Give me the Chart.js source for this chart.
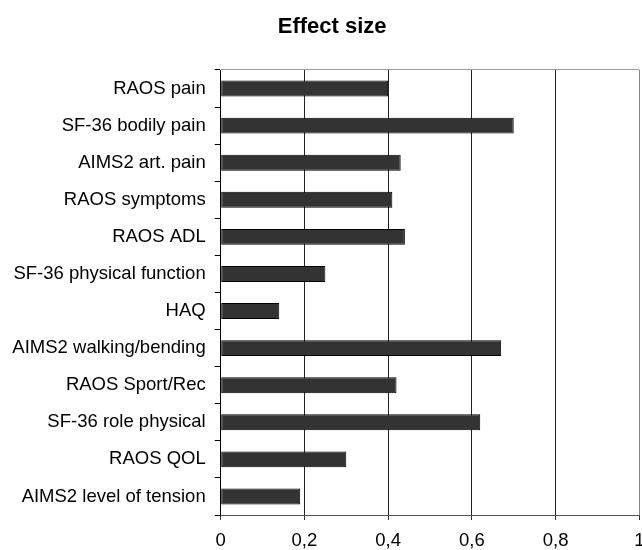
<!DOCTYPE html>
<html>
<head>
<meta charset="utf-8">
<script src="https://cdn.jsdelivr.net/npm/chart.js@4/dist/chart.umd.min.js"></script>
<style>
  html, body { margin: 0; padding: 0; background: #fff; }
  #wrap { width: 642px; height: 550px; }
</style>
</head>
<body>
<div id="wrap"><canvas id="c" width="642" height="550"></canvas></div>
<script>
const categories = [
  'RAOS pain', 'SF-36 bodily pain', 'AIMS2 art. pain', 'RAOS symptoms',
  'RAOS ADL', 'SF-36 physical function', 'HAQ', 'AIMS2 walking/bending',
  'RAOS Sport/Rec', 'SF-36 role physical', 'RAOS QOL', 'AIMS2 level of tension'
];
const effectSize = [0.40, 0.70, 0.43, 0.41, 0.44, 0.25, 0.14, 0.67, 0.42, 0.62, 0.30, 0.19];
const xTickLabels = ['0', '0,2', '0,4', '0,6', '0,8', '1'];
const chartTitle = 'Effect size';

const FONT = "'Liberation Sans', Arial, Helvetica, sans-serif";

// shift the title box so it is centred like the original (which ignores the widest label)
const titleShift = {
  id: 'titleShift',
  afterLayout(chart) {
    const t = chart.titleBlock;
    if (t) { t.left += 15; }
  }
};

new Chart(document.getElementById('c'), {
  type: 'bar',
  data: {
    labels: categories,
    datasets: [{
      data: effectSize,
      backgroundColor: '#333333',
      borderColor: '#000000',
      borderWidth: 1,
      borderSkipped: false,
      categoryPercentage: 1,
      barPercentage: 0.43
    }]
  },
  plugins: [titleShift],
  options: {
    indexAxis: 'y',
    responsive: false,
    animation: false,
    devicePixelRatio: 1,
    layout: { padding: { left: 10, right: 2.7, top: 0, bottom: 0 } },
    plugins: {
      legend: { display: false },
      tooltip: { enabled: false },
      title: {
        display: true,
        text: chartTitle,
        color: '#000',
        font: { family: FONT, size: 22, weight: 'bold', lineHeight: 1.2 },
        padding: { top: 14, bottom: 29.6 }
      }
    },
    scales: {
      x: {
        type: 'linear',
        position: 'bottom',
        min: 0,
        max: 1,
        afterFit: (s) => { s.height = 35; s.paddingLeft = 0; s.paddingRight = 0; },
        ticks: {
          stepSize: 0.2,
          color: '#000',
          padding: 10,
          maxRotation: 0,
          font: { family: FONT, size: 18.5 },
          callback: (v, i) => xTickLabels[i]
        },
        grid: {
          color: (ctx) => (ctx.index === xTickLabels.length - 1 ? '#888' : '#222'),
          tickColor: '#333',
          tickLength: 5,
          lineWidth: 1
        },
        border: { display: true, color: '#555', width: 1 }
      },
      y: {
        type: 'category',
        position: 'left',
        afterFit: (s) => { s.width = 210.7; },
        ticks: {
          color: '#000',
          padding: 9,
          font: { family: FONT, size: 18.5 }
        },
        grid: {
          offset: true,
          drawOnChartArea: true,
          color: (ctx) => (ctx.index === 0 ? '#999' : 'rgba(0,0,0,0)'),
          tickColor: '#000',
          tickLength: 6,
          lineWidth: 1
        },
        border: { display: true, color: '#000', width: 1 }
      }
    }
  }
});
</script>
</body>
</html>
